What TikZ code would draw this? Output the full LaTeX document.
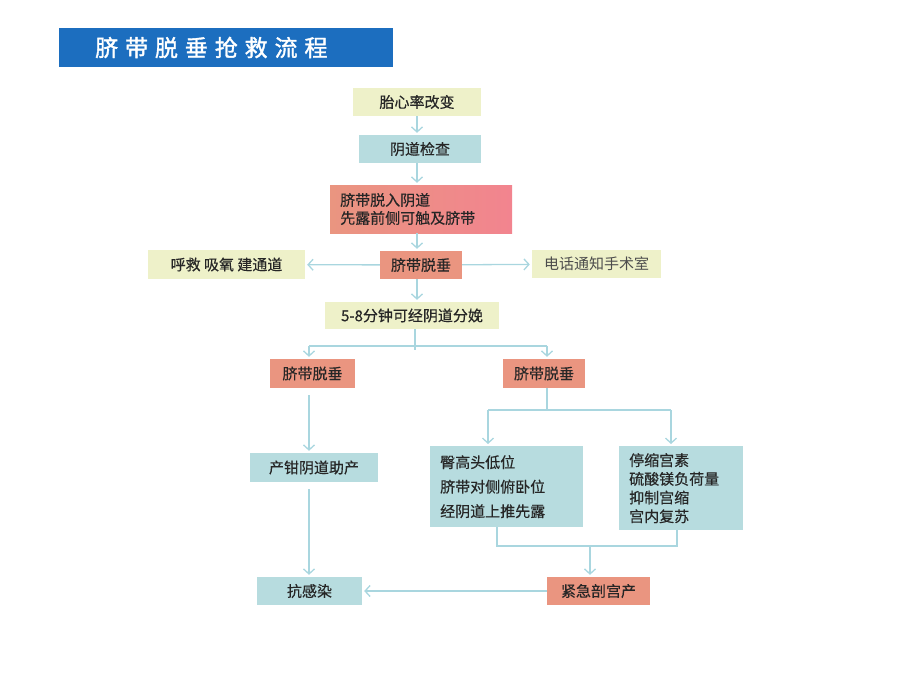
\documentclass[tikz,border=0pt]{standalone}
\usepackage{fontspec}
\setmainfont[FakeBold=0.4]{Noto Sans CJK SC}
\newfontfamily\titlefont[LetterSpace=30,FakeBold=1.5]{Noto Sans CJK SC}
\newfontfamily\phonefont{Noto Sans CJK SC}
\usetikzlibrary{arrows.meta}
\definecolor{titleblue}{HTML}{1C6EBF}
\definecolor{boxyel}{HTML}{EEF1C9}
\definecolor{boxblu}{HTML}{B7DCDF}
\definecolor{boxred}{HTML}{EA9580}
\definecolor{boxpink}{HTML}{F2848F}
\definecolor{linkblue}{HTML}{A9D6DF}
\tikzset{
	box/.style={inner sep=0pt, font=\fontsize{15}{18}\selectfont, text=black!85},
	yelbox/.style={box, fill=boxyel},
	blubox/.style={box, fill=boxblu},
	redbox/.style={box, fill=boxred},
	link/.style={draw=linkblue, line width=1.3pt},
	arr/.style={link, ->, shorten >=2pt},
}
\begin{document}
\begin{tikzpicture}[x=1pt,y=-1pt,>={Straight Barb[length=5pt,width=11pt]}]
	\useasboundingbox (0,0) rectangle (920,690);
	% title bar
	\node (title) [fill=titleblue, text=white, anchor=west, minimum height=39pt,
		inner xsep=36pt, text width=262pt, align=left,
		font=\titlefont\fontsize{23}{26}\selectfont] at (59,47.5) {脐带脱垂抢救流程};
	
	\node (heart) [yelbox, minimum width=128pt, minimum height=28pt] at (417,102) {胎心率改变};
	\node (exam) [blubox, minimum width=122pt, minimum height=28pt] at (420,149) {阴道检查};
	\node (prolapse) [box, left color=boxred, right color=boxpink, anchor=west,
		minimum height=48pt, text width=162pt, inner xsep=10pt, align=left] at (330,209)
		{脐带脱入阴道\\先露前侧可触及脐带};
	\node (cord) [redbox, minimum width=82pt, minimum height=28pt] at (421,265) {脐带脱垂};
	\node (rescue) [yelbox, minimum width=157pt, minimum height=29pt] at (226.5,264.5) {呼救 吸氧 建通道};
	\node (phone) [yelbox, text=black!70, minimum width=129pt, minimum height=28pt,
		font=\phonefont\fontsize{15}{18}\selectfont] at (596.5,264) {电话通知手术室};
	\node (five) [yelbox, minimum width=174pt, minimum height=27pt] at (412,315.5) {5-8分钟可经阴道分娩};
	\node (lcord) [redbox, minimum width=85pt, minimum height=29pt] at (312.5,373.5) {脐带脱垂};
	\node (rcord) [redbox, minimum width=82pt, minimum height=29pt] at (544,373.5) {脐带脱垂};
	\node (forceps) [blubox, minimum width=128pt, minimum height=29pt] at (314,467.5) {产钳阴道助产};
	\node (pos) [blubox, anchor=north west, minimum height=81pt, text width=133pt,
		inner xsep=10pt, align=left, font=\fontsize{15}{24.5}\selectfont] at (430,446)
		{臀高头低位\\脐带对侧俯卧位\\经阴道上推先露};
	\node (drug) [blubox, anchor=north west, minimum height=84pt, text width=104pt,
		inner xsep=10pt, align=left, font=\fontsize{15}{18.7}\selectfont] at (619,446)
		{停缩宫素\\硫酸镁负荷量\\抑制宫缩\\宫内复苏};
	\node (cs) [redbox, minimum width=103pt, minimum height=28pt] at (598.5,591) {紧急剖宫产};
	\node (anti) [blubox, minimum width=105pt, minimum height=28pt] at (309.5,591) {抗感染};
	
	\coordinate (fivebr) at (415,350);
	\coordinate (lbr) at (309,346);
	\coordinate (rbr) at (547,346);
	\coordinate (rsplit) at (547,410);
	\coordinate (plbr) at (488,410);
	\coordinate (prbr) at (671,410);
	\coordinate (mgl) at (497,546);
	\coordinate (mgr) at (677,546);
	\coordinate (mgm) at (590,546);
	
	\draw[arr] (heart.south -| heart) -- (heart |- exam.north);
	\draw[arr] (exam.south -| heart) -- (heart |- prolapse.north);
	\draw[arr] (prolapse.south -| heart) -- (heart |- cord.north);
	\draw[arr] (cord) -- (rescue);
	\draw[arr] (cord) -- (phone);
	\draw[arr] (cord.south -| heart) -- (heart |- five.north);
	\draw[link] (five.south -| fivebr) -- (fivebr);
	\draw[link] (lbr) -- (rbr);
	\draw[arr] (lbr) -- (lbr |- lcord.north);
	\draw[arr] (rbr) -- (rbr |- rcord.north);
	\draw[arr, shorten <=7pt] (lcord.south -| lbr) -- (lbr |- forceps.north);
	\draw[arr, shorten <=7pt] (forceps.south -| lbr) -- (lbr |- anti.north);
	\draw[link] (rcord.south -| rsplit) -- (rsplit);
	\draw[link] (plbr) -- (prbr);
	\draw[arr] (plbr) -- (plbr |- pos.north);
	\draw[arr] (prbr) -- (prbr |- drug.north);
	\draw[link] (pos.south -| mgl) -- (mgl) -- (mgr) -- (drug.south -| mgr);
	\draw[arr] (mgm) -- (mgm |- cs.north);
	\draw[arr] (cs) -- (anti);
\end{tikzpicture}
\end{document}
